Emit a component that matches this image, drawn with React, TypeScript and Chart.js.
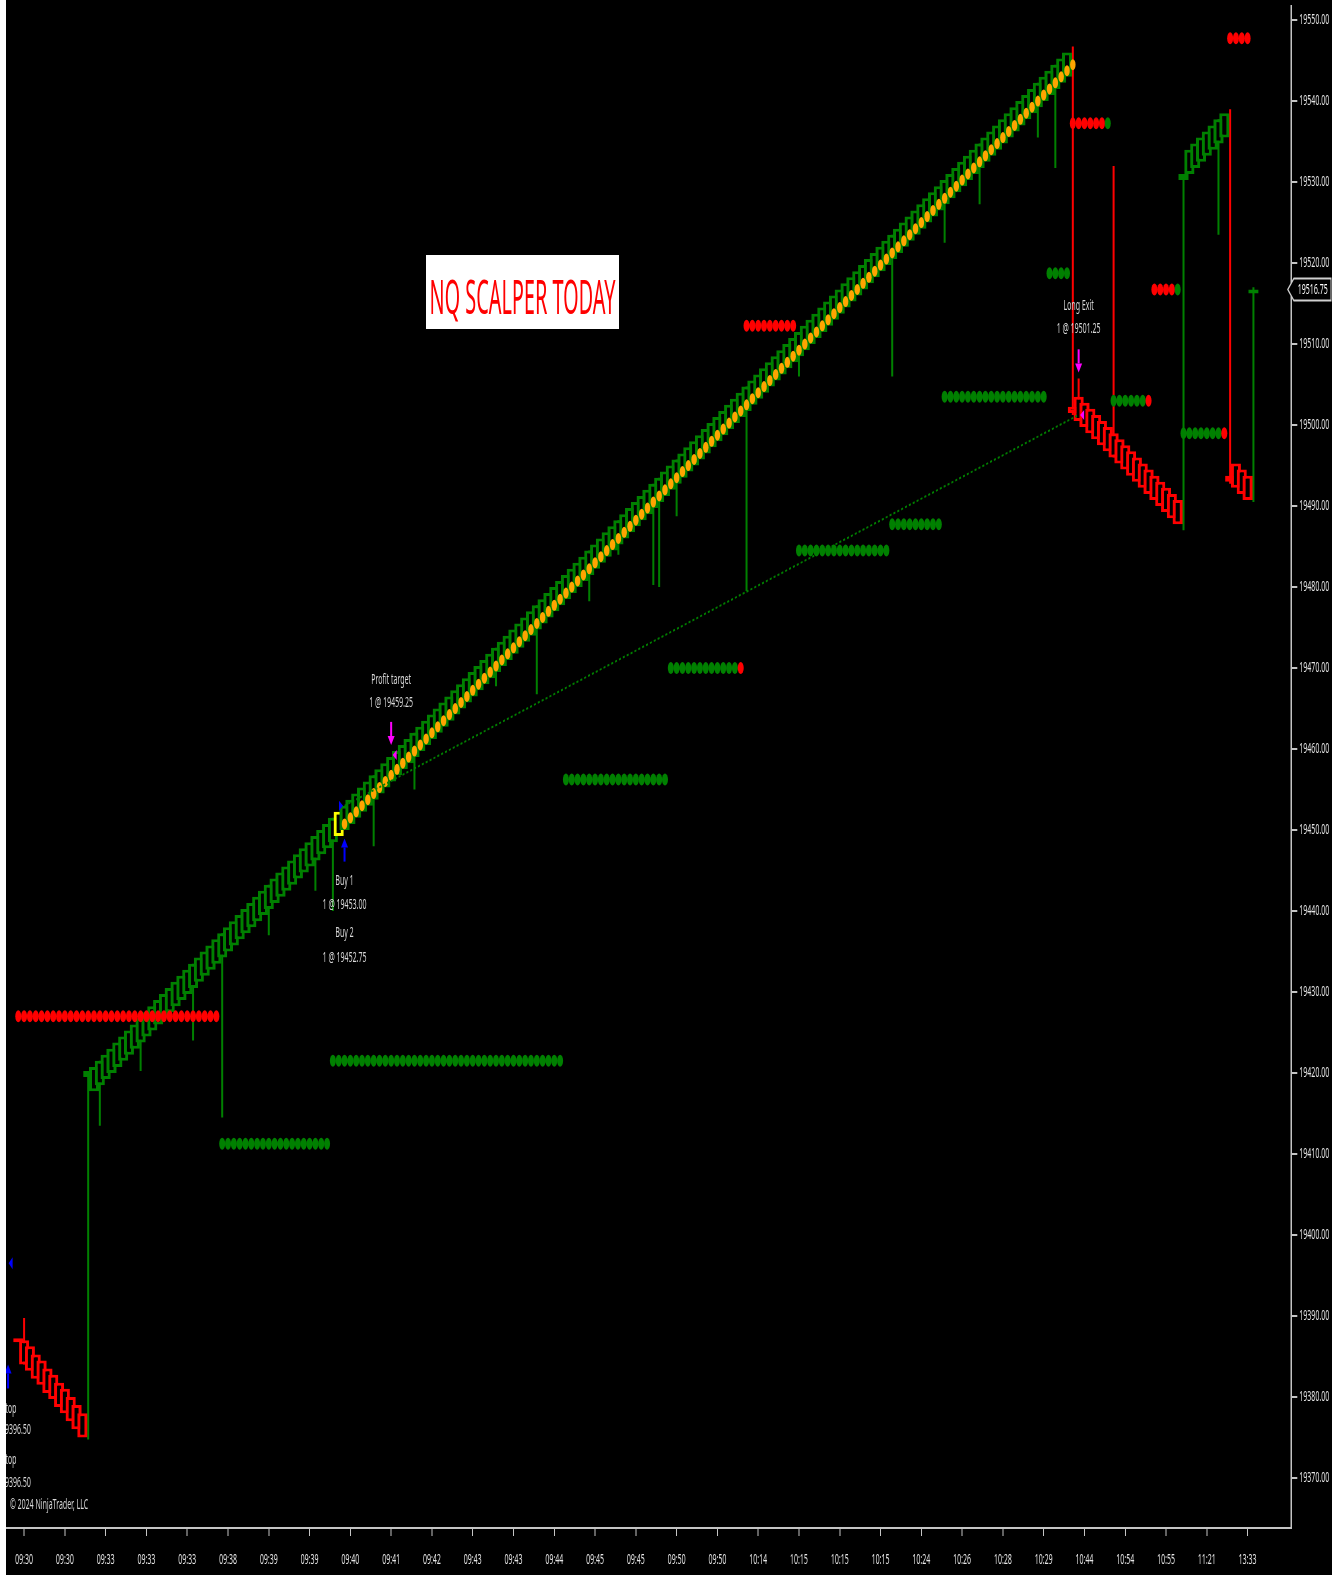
import React, { useEffect, useRef } from "react";
import { Chart, registerables } from "chart.js";

Chart.register(...registerables);

// The reference screenshot is squeezed horizontally; the chart is drawn wide and squeezed the same way.
const SQUEEZE = 0.5;
const CANVAS_W = 2664;
const CANVAS_H = 1575;

const GREEN = "#008000";
const RED = "#ff0000";
const ORANGE = "#ffa500";
const YELLOW = "#ffff00";
const BLUE = "#0000ff";
const MAGENTA = "#ff00ff";

const timeLabels = [
  "09:30", "09:30", "09:33", "09:33", "09:33", "09:38", "09:39", "09:39", "09:40", "09:41",
  "09:42", "09:43", "09:43", "09:44", "09:45", "09:45", "09:50", "09:50", "10:14", "10:15",
  "10:15", "10:15", "10:24", "10:26", "10:28", "10:29", "10:44", "10:54", "10:55", "11:21", "13:33",
];
const timeTickBars = [
  3, 10, 17, 24, 31, 38, 45, 52, 59, 66, 73, 80, 87, 94, 101, 108, 115, 122, 129, 136,
  143, 150, 157, 164, 171, 178, 185, 192, 199, 206, 213,
];
const priceTicks = [
  19370, 19380, 19390, 19400, 19410, 19420, 19430, 19440, 19450, 19460,
  19470, 19480, 19490, 19500, 19510, 19520, 19530, 19540, 19550,
];

const barClose: (number | null)[] = [
  null, null, 19386.75,
  19384, 19383.25, 19382.25, 19381.5, 19380.5, 19379.75, 19378.75, 19378, 19377, 19376, 19375,
  19420.25,
  19420.75, 19421.5, 19422.25, 19423, 19423.75, 19424.5, 19425.25, 19426, 19426.75, 19427.5,
  19428.25, 19429, 19429.75, 19430.5, 19431.25, 19432, 19432.75, 19433.5, 19434.25, 19435,
  19435.75, 19436.5, 19437.25, 19438, 19438.75, 19439.5, 19440.25, 19441, 19441.75, 19442.5,
  19443.25, 19444, 19444.75, 19445.5, 19446.25, 19447, 19447.75, 19448.5, 19449.25, 19450,
  19450.75, 19451.5, 19452.25, 19453, 19453.75, 19454.5, 19455.25, 19456, 19456.75, 19457.5,
  19458.25, 19459, 19459.75, 19460.5, 19461.25, 19462, 19462.75, 19463.5, 19464.25, 19465,
  19465.75, 19466.5, 19467.25, 19468, 19468.75, 19469.5, 19470.25, 19471, 19471.75, 19472.5,
  19473.25, 19474, 19474.75, 19475.5, 19476.25, 19477, 19477.75, 19478.5, 19479.25, 19480,
  19480.75, 19481.5, 19482.25, 19483, 19483.75, 19484.5, 19485.25, 19486, 19486.75, 19487.5,
  19488.25, 19489, 19489.75, 19490.5, 19491.25, 19492, 19492.75, 19493.5, 19494.25, 19495,
  19495.75, 19496.5, 19497.25, 19498, 19498.75, 19499.5, 19500.25, 19501, 19501.75, 19502.5,
  19503.25, 19504, 19504.75, 19505.5, 19506.25, 19507, 19507.75, 19508.5, 19509.25, 19510,
  19510.75, 19511.5, 19512.25, 19513, 19513.75, 19514.5, 19515.25, 19516, 19516.75, 19517.5,
  19518.25, 19519, 19519.75, 19520.5, 19521.25, 19522, 19522.75, 19523.5, 19524.25, 19525,
  19525.75, 19526.5, 19527.25, 19528, 19528.75, 19529.5, 19530.25, 19531, 19531.75, 19532.5,
  19533.25, 19534, 19534.75, 19535.5, 19536.25, 19537, 19537.75, 19538.5, 19539.25, 19540,
  19540.75, 19541.5, 19542.25, 19543, 19543.75, 19544.5, 19545.25, 19546,
  19501.5,
  19500.5, 19499.75, 19499, 19498.25, 19497.5, 19496.75, 19496, 19495.25, 19494.5, 19493.75,
  19493, 19492.25, 19491.5, 19490.75, 19490, 19489.25, 19488.5, 19487.75,
  19531,
  19534, 19534.75, 19535.5, 19536.25, 19537, 19537.75, 19538.5,
  19493,
  19492.25, 19491.5, 19490.75,
  19516.75,
];

const barOpen: (number | null)[] = [
  null, null, 19387.25,
  19387, 19386.25, 19385.25, 19384.5, 19383.5, 19382.75, 19381.75, 19381, 19380, 19379, 19378,
  19419.5,
  19417.75, 19418.5, 19419.25, 19420, 19420.75, 19421.5, 19422.25, 19423, 19423.75, 19424.5,
  19425.25, 19426, 19426.75, 19427.5, 19428.25, 19429, 19429.75, 19430.5, 19431.25, 19432,
  19432.75, 19433.5, 19434.25, 19435, 19435.75, 19436.5, 19437.25, 19438, 19438.75, 19439.5,
  19440.25, 19441, 19441.75, 19442.5, 19443.25, 19444, 19444.75, 19445.5, 19446.25, 19447,
  19447.75, 19448.5, 19449.25, 19450, 19450.75, 19451.5, 19452.25, 19453, 19453.75, 19454.5,
  19455.25, 19456, 19456.75, 19457.5, 19458.25, 19459, 19459.75, 19460.5, 19461.25, 19462,
  19462.75, 19463.5, 19464.25, 19465, 19465.75, 19466.5, 19467.25, 19468, 19468.75, 19469.5,
  19470.25, 19471, 19471.75, 19472.5, 19473.25, 19474, 19474.75, 19475.5, 19476.25, 19477,
  19477.75, 19478.5, 19479.25, 19480, 19480.75, 19481.5, 19482.25, 19483, 19483.75, 19484.5,
  19485.25, 19486, 19486.75, 19487.5, 19488.25, 19489, 19489.75, 19490.5, 19491.25, 19492,
  19492.75, 19493.5, 19494.25, 19495, 19495.75, 19496.5, 19497.25, 19498, 19498.75, 19499.5,
  19500.25, 19501, 19501.75, 19502.5, 19503.25, 19504, 19504.75, 19505.5, 19506.25, 19507,
  19507.75, 19508.5, 19509.25, 19510, 19510.75, 19511.5, 19512.25, 19513, 19513.75, 19514.5,
  19515.25, 19516, 19516.75, 19517.5, 19518.25, 19519, 19519.75, 19520.5, 19521.25, 19522,
  19522.75, 19523.5, 19524.25, 19525, 19525.75, 19526.5, 19527.25, 19528, 19528.75, 19529.5,
  19530.25, 19531, 19531.75, 19532.5, 19533.25, 19534, 19534.75, 19535.5, 19536.25, 19537,
  19537.75, 19538.5, 19539.25, 19540, 19540.75, 19541.5, 19542.25, 19543,
  19502.25,
  19503.5, 19502.75, 19502, 19501.25, 19500.5, 19499.75, 19499, 19498.25, 19497.5, 19496.75,
  19496, 19495.25, 19494.5, 19493.75, 19493, 19492.25, 19491.5, 19490.75,
  19530.25,
  19531, 19531.75, 19532.5, 19533.25, 19534, 19534.75, 19535.5,
  19493.75,
  19495.25, 19494.5, 19493.75,
  19516.25,
];

// bar that was highlighted at the entry
const signalBar = 57;

// wicks: bar index, low, high
const wickBar = [3, 14, 16, 23, 32, 37, 45, 53, 56, 63, 70, 84, 91, 100, 105, 111, 112, 115, 127, 136, 152, 161, 167, 177, 180, 183, 184, 190, 202, 208, 210, 214];
const wickLow = [19384, 19374.75, 19413.5, 19420.25, 19424, 19414.5, 19437, 19442.5, 19440, 19448, 19455, 19467.75, 19466.75, 19478.25, 19484, 19480.25, 19480, 19488.75, 19479.5, 19506, 19506, 19522.5, 19527.25, 19535.5, 19531.75, 19501.25, 19500.5, 19496, 19487, 19523.5, 19492.75, 19490.5];
const wickHigh = [19389.75, 19420.25, 19421.5, 19426.75, 19433.5, 19437.25, 19443.25, 19449.25, 19451.5, 19456.75, 19462, 19472.5, 19477.75, 19484.5, 19488.25, 19492.75, 19493.5, 19495.75, 19504.75, 19511.5, 19523.5, 19530.25, 19534.75, 19542.25, 19544.5, 19546.75, 19505.75, 19532, 19531, 19537.75, 19539, 19517];

// orange trailing dots, starting at bar 58
const orangeStart = 58;
const orangeDots = [
  19450.75, 19451.5, 19452.25, 19453, 19453.75, 19454.5, 19455.25, 19456, 19456.75, 19457.5,
  19458.25, 19459, 19459.75, 19460.5, 19461.25, 19462, 19462.75, 19463.5, 19464.25, 19465,
  19465.75, 19466.5, 19467.25, 19468, 19468.75, 19469.5, 19470.25, 19471, 19471.75, 19472.5,
  19473.25, 19474, 19474.75, 19475.5, 19476.25, 19477, 19477.75, 19478.5, 19479.25, 19480,
  19480.75, 19481.5, 19482.25, 19483, 19483.75, 19484.5, 19485.25, 19486, 19486.75, 19487.5,
  19488.25, 19489, 19489.75, 19490.5, 19491.25, 19492, 19492.75, 19493.5, 19494.25, 19495,
  19495.75, 19496.5, 19497.25, 19498, 19498.75, 19499.5, 19500.25, 19501, 19501.75, 19502.5,
  19503.25, 19504, 19504.75, 19505.5, 19506.25, 19507, 19507.75, 19508.5, 19509.25, 19510,
  19510.75, 19511.5, 19512.25, 19513, 19513.75, 19514.5, 19515.25, 19516, 19516.75, 19517.5,
  19518.25, 19519, 19519.75, 19520.5, 19521.25, 19522, 19522.75, 19523.5, 19524.25, 19525,
  19525.75, 19526.5, 19527.25, 19528, 19528.75, 19529.5, 19530.25, 19531, 19531.75, 19532.5,
  19533.25, 19534, 19534.75, 19535.5, 19536.25, 19537, 19537.75, 19538.5, 19539.25, 19540,
  19540.75, 19541.5, 19542.25, 19543, 19543.75, 19544.5,
];

// level dot rows
const levelFrom = [2, 37, 56, 96, 114, 127, 136, 152, 161, 179, 183, 190, 197, 202, 210];
const levelTo = [36, 55, 95, 113, 126, 135, 151, 160, 178, 182, 189, 196, 201, 209, 213];
const levelPrice = [19427, 19411.25, 19421.5, 19456.25, 19470, 19512.25, 19484.5, 19487.75, 19503.5, 19518.75, 19537.25, 19503, 19516.75, 19499, 19547.75];
const levelSide = ["r", "g", "g", "g", "g", "r", "g", "g", "g", "g", "r", "g", "r", "g", "r"];
const levelEndSide = ["r", "g", "g", "g", "r", "r", "g", "g", "g", "g", "g", "r", "g", "r", "r"];

// trade line: entry -> exit
const tradeBars = [58, 184];
const tradePrices = [19453, 19501.25];

// arrows: bar, tail price, tip price, side
const arrowBar = [58, 66, 184, 0.25];
const arrowTail = [19446.1, 19463.35, 19509.35, 19381.05];
const arrowTip = [19448.95, 19460.5, 19506.5, 19384.0];
const arrowSide = ["buy", "sell", "sell", "buy"];

// execution markers
const markerBar = [58, 66, 184, 0];
const markerPrice = [19453, 19459.25, 19501.25, 19396.5];
const markerSide = ["buy", "sell", "sell", "sellL"];

// text notes: bar, lines, prices
const noteBar = [66, 58, 184, 0.4];
const noteText = [
  ["Profit target", "1 @ 19459.25"],
  ["Buy 1", "1 @ 19453.00", "Buy 2", "1 @ 19452.75"],
  ["Long Exit", "1 @ 19501.25"],
  ["Stop", "1 @ 19396.50", "Stop", "1 @ 19396.50"],
];
const notePrice = [
  [19468.55, 19465.7],
  [19443.65, 19440.8, 19437.25, 19434.25],
  [19514.7, 19511.85],
  [19378.55, 19375.95, 19372.25, 19369.4],
];

const lastPrice = 19516.75;
const titleText = "NQ SCALPER TODAY";
const copyright = "\u00a9 2024 NinjaTrader, LLC";

function drawArrow(ctx: CanvasRenderingContext2D, x: number, yTail: number, yTip: number, color: string) {
  const dir = yTip < yTail ? -1 : 1;
  const headLen = 9;
  const headHalf = 7;
  const baseY = yTip - dir * headLen;
  ctx.fillStyle = color;
  ctx.fillRect(x - 2, Math.min(yTail, baseY), 4, Math.abs(yTail - baseY));
  ctx.beginPath();
  ctx.moveTo(x, yTip);
  ctx.lineTo(x - headHalf, baseY);
  ctx.lineTo(x + headHalf, baseY);
  ctx.closePath();
  ctx.fill();
}

function drawMarker(ctx: CanvasRenderingContext2D, x: number, y: number, side: string) {
  ctx.beginPath();
  if (side === "buy") {
    ctx.fillStyle = BLUE;
    ctx.moveTo(x - 3, y);
    ctx.lineTo(x - 11, y - 5);
    ctx.lineTo(x - 11, y + 5);
  } else if (side === "sellL") {
    ctx.fillStyle = BLUE;
    ctx.moveTo(x + 4, y);
    ctx.lineTo(x + 12, y - 6);
    ctx.lineTo(x + 12, y + 6);
  } else {
    ctx.fillStyle = MAGENTA;
    ctx.moveTo(x + 3, y);
    ctx.lineTo(x + 11, y - 5);
    ctx.lineTo(x + 11, y + 5);
  }
  ctx.closePath();
  ctx.fill();
}

const overlayPlugin = {
  id: "overlay",
  afterDatasetsDraw(chart: any) {
    const { ctx } = chart;
    const xs = chart.scales.x;
    const ys = chart.scales.y;
    const X = (b: number) => xs.getPixelForValue(b);
    const Y = (p: number) => ys.getPixelForValue(p);
    ctx.save();
    arrowBar.forEach((b, k) =>
      drawArrow(ctx, X(b), Y(arrowTail[k]), Y(arrowTip[k]), arrowSide[k] === "buy" ? BLUE : MAGENTA)
    );
    markerBar.forEach((b, k) => drawMarker(ctx, X(b), Y(markerPrice[k]), markerSide[k]));
    ctx.font = '14px "Noto Sans"';
    ctx.fillStyle = "#d9d9d9";
    ctx.textAlign = "center";
    ctx.textBaseline = "middle";
    noteBar.forEach((b, k) => {
      noteText[k].forEach((t, j) => ctx.fillText(t, X(b), Y(notePrice[k][j])));
    });
    ctx.restore();
  },
  afterDraw(chart: any) {
    const { ctx, chartArea } = chart;
    const ys = chart.scales.y;
    ctx.save();
    // title box
    ctx.fillStyle = "#ffffff";
    ctx.fillRect(852, 255, 386, 74);
    ctx.font = '48px "Noto Sans"';
    const tw = ctx.measureText(titleText).width;
    ctx.translate(1045, 314);
    ctx.scale(372 / tw, 1);
    ctx.fillStyle = RED;
    ctx.textAlign = "center";
    ctx.textBaseline = "alphabetic";
    ctx.fillText(titleText, 0, 0);
    ctx.restore();

    ctx.save();
    // copyright
    ctx.font = '14px "Noto Sans"';
    ctx.fillStyle = "#d9d9d9";
    ctx.textAlign = "left";
    ctx.textBaseline = "middle";
    ctx.fillText(copyright, 20, 1505);

    // last price tag
    const yy = ys.getPixelForValue(lastPrice);
    const r = chartArea.right;
    ctx.beginPath();
    ctx.moveTo(r - 7, yy);
    ctx.lineTo(r + 5, yy - 11);
    ctx.lineTo(CANVAS_W - 2, yy - 11);
    ctx.lineTo(CANVAS_W - 2, yy + 11);
    ctx.lineTo(r + 5, yy + 11);
    ctx.closePath();
    ctx.fillStyle = "#000";
    ctx.fill();
    ctx.strokeStyle = "#d0d0d0";
    ctx.lineWidth = 2;
    ctx.stroke();
    ctx.fillStyle = "#ffffff";
    ctx.font = '14px "Noto Sans"';
    ctx.fillText(lastPrice.toFixed(2), r + 13, yy + 1);
    ctx.restore();
  },
};

export default function App() {
  const ref = useRef<HTMLCanvasElement>(null);

  useEffect(() => {
    const bodies: any[] = [];
    const bodyColors: string[] = [];
    barClose.forEach((c, i) => {
      const o = barOpen[i];
      if (c == null || o == null) return;
      bodies.push({ x: i, y: [o, c] });
      bodyColors.push(i === signalBar ? YELLOW : c >= o ? GREEN : RED);
    });

    const wicks = wickBar.map((b, k) => ({ x: b, y: [wickLow[k], wickHigh[k]] }));
    const wickColors = wickBar.map((b) => ((barClose[b] as number) >= (barOpen[b] as number) ? GREEN : RED));

    const orange = orangeDots.map((v, k) => ({ x: orangeStart + k, y: v }));

    const levelPts: any[] = [];
    const levelCols: string[] = [];
    levelFrom.forEach((f, k) => {
      for (let i = f; i <= levelTo[k]; i++) {
        levelPts.push({ x: i, y: levelPrice[k] });
        const s = i === levelTo[k] ? levelEndSide[k] : levelSide[k];
        levelCols.push(s === "r" ? RED : GREEN);
      }
    });

    const trade = tradeBars.map((b, k) => ({ x: b, y: tradePrices[k] }));

    const axisColor = "#c4c4c4";
    const labelColor = "#e6e6e6";

    const chart = new Chart(ref.current as HTMLCanvasElement, {
      type: "bar",
      data: {
        datasets: [
          {
            type: "line",
            data: trade,
            borderColor: GREEN,
            borderWidth: 2,
            borderDash: [4, 4],
            pointRadius: 0,
            order: 0,
          } as any,
          {
            type: "line",
            data: levelPts,
            showLine: false,
            pointRadius: 6,
            pointBorderWidth: 0,
            pointBackgroundColor: levelCols,
            order: 1,
          } as any,
          {
            type: "line",
            data: orange,
            showLine: false,
            pointRadius: 5.5,
            pointBorderWidth: 0,
            pointBackgroundColor: ORANGE,
            order: 1,
          } as any,
          {
            type: "bar",
            data: bodies,
            backgroundColor: "#000000",
            borderColor: bodyColors,
            borderWidth: { left: 6, right: 6, top: 3, bottom: 3 },
            borderSkipped: false,
            barThickness: 20,
            grouped: false,
            inflateAmount: 0,
            order: 2,
          } as any,
          {
            type: "bar",
            data: wicks,
            backgroundColor: wickColors,
            borderWidth: 0,
            barThickness: 4,
            grouped: false,
            inflateAmount: 0,
            order: 3,
          } as any,
        ],
      },
      options: {
        responsive: false,
        maintainAspectRatio: false,
        animation: false,
        devicePixelRatio: 1,
        events: [],
        layout: { padding: { left: 7.4, right: 0, top: 0, bottom: 0 } },
        plugins: { legend: { display: false }, tooltip: { enabled: false } },
        scales: {
          x: {
            type: "linear",
            offset: false,
            min: -0.5,
            max: 220.5,
            afterBuildTicks: (axis: any) => {
              axis.ticks = timeTickBars.map((v) => ({ value: v }));
            },
            afterFit: (axis: any) => {
              axis.height = CANVAS_H - 1528;
              axis.paddingLeft = 0;
              axis.paddingRight = 0;
              axis.paddingTop = 0;
              axis.paddingBottom = 0;
            },
            ticks: {
              autoSkip: false,
              maxRotation: 0,
              color: labelColor,
              font: { family: "Noto Sans", size: 14 },
              padding: 16,
              callback: (_v: any, idx: number) => timeLabels[idx],
            },
            grid: { offset: false, drawOnChartArea: false, drawTicks: true, tickLength: 8, color: axisColor, lineWidth: 2 },
            border: { display: true, color: axisColor, width: 2 },
          },
          y: {
            type: "linear",
            position: "right",
            min: 19363.82,
            max: 19551.74,
            afterBuildTicks: (axis: any) => {
              axis.ticks = priceTicks.map((v) => ({ value: v }));
            },
            afterFit: (axis: any) => {
              axis.width = 81.4;
              axis.paddingLeft = 0;
              axis.paddingRight = 0;
              axis.paddingTop = 0;
              axis.paddingBottom = 0;
            },
            ticks: {
              color: labelColor,
              font: { family: "Noto Sans", size: 14 },
              padding: 4,
              callback: (v: any) => Number(v).toFixed(2),
            },
            grid: { drawOnChartArea: false, drawTicks: true, tickLength: 12, color: axisColor, lineWidth: 2 },
            border: { display: true, color: axisColor, width: 3 },
          },
        },
      } as any,
      plugins: [overlayPlugin as any],
    });
    return () => chart.destroy();
  }, []);

  return (
    <div
      style={{
        position: "fixed",
        left: 0,
        top: 0,
        width: 1332,
        height: 1575,
        overflow: "hidden",
        background: "#000",
      }}
    >
      <div
        style={{
          width: CANVAS_W,
          height: CANVAS_H,
          transform: `scaleX(${SQUEEZE})`,
          transformOrigin: "0 0",
        }}
      >
        <canvas ref={ref} width={CANVAS_W} height={CANVAS_H} style={{ width: CANVAS_W, height: CANVAS_H }} />
      </div>
      <div style={{ position: "absolute", left: 0, top: 0, width: 6, height: 1575, background: "#fff" }} />
    </div>
  );
}
